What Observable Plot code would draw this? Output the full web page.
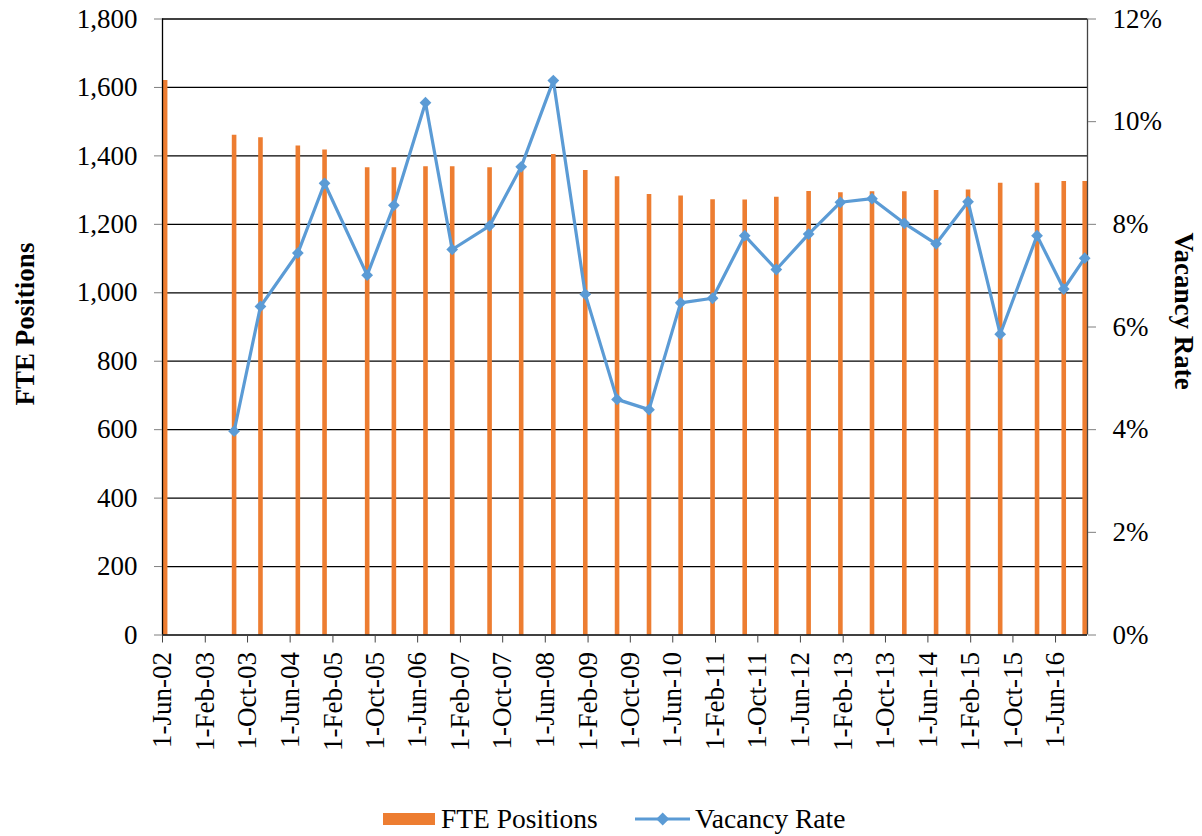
<!DOCTYPE html>
<html><head><meta charset="utf-8">
<script src="https://cdn.jsdelivr.net/npm/d3@7"></script>
<script src="https://cdn.jsdelivr.net/npm/@observablehq/plot@0.6"></script>
<style>
body{margin:0;background:#fff;font-family:"Liberation Serif","Times New Roman",serif;}
#wrap{position:relative;width:1202px;height:836px;overflow:hidden;}
.ytitle{position:absolute;font-weight:bold;font-size:27px;white-space:nowrap;line-height:1;}
#lt{left:25px;top:324px;transform:translate(-50%,-50%) rotate(-90deg);}
#rt{left:1183px;top:311px;transform:translate(-50%,-50%) rotate(90deg);}
#legend{position:absolute;left:0;top:800px;}
</style></head><body>
<div id="wrap">
<div id="chart"></div>
<div class="ytitle" id="lt">FTE Positions</div>
<div class="ytitle" id="rt">Vacancy Rate</div>
<svg id="legend" width="1202" height="36">
  <rect x="383" y="13" width="52" height="12" fill="#ED7D31"></rect>
  <text x="441" y="28" font-size="27.5" font-family="Liberation Serif, Times New Roman, serif">FTE Positions</text>
  <line x1="635" x2="690" y1="19" y2="19" stroke="#5B9BD5" stroke-width="3"></line>
  <path d="M662.7,12.5 L669.2,19 L662.7,25.5 L656.2,19 Z" fill="#5B9BD5"></path>
  <text x="695" y="28" font-size="27.5" font-family="Liberation Serif, Times New Roman, serif">Vacancy Rate</text>
</svg>
</div>
<script>
// ---- data ----
const dates = [
  "2002-06-16","2003-07-16","2003-12-14","2004-07-15","2004-12-15","2005-08-16",
  "2006-01-16","2006-07-16","2006-12-16","2007-07-18","2008-01-15","2008-07-17",
  "2009-01-16","2009-07-17","2010-01-16","2010-07-16","2011-01-15","2011-07-18",
  "2012-01-15","2012-07-18","2013-01-16","2013-07-16","2014-01-17","2014-07-18",
  "2015-01-17","2015-07-20","2016-02-16","2016-07-18","2016-11-15"
];
const ftePositions = [
  1620, 1460, 1453, 1429, 1417, 1365,
  1365, 1368, 1368, 1365, 1366, 1404,
  1357, 1339, 1287, 1283, 1272, 1271,
  1279, 1296, 1292, 1295, 1295, 1299,
  1300, 1320, 1320, 1325, 1325
];
const vacancyRate = [
  null, 3.97, 6.40, 7.44, 8.80, 7.01,
  8.37, 10.37, 7.51, 7.97, 9.12, 10.80,
  6.64, 4.59, 4.39, 6.47, 6.56, 7.78,
  7.12, 7.81, 8.43, 8.50, 8.02, 7.62,
  8.44, 5.86, 7.78, 6.74, 7.34
];
const xTickDates = [
  "2002-06-01","2003-02-01","2003-10-01","2004-06-01","2005-02-01","2005-10-01",
  "2006-06-01","2007-02-01","2007-10-01","2008-06-01","2009-02-01","2009-10-01",
  "2010-06-01","2011-02-01","2011-10-01","2012-06-01","2013-02-01","2013-10-01",
  "2014-06-01","2015-02-01","2015-10-01","2016-06-01"
];
const xDomain = ["2002-06-01", "2016-12-01"];
const leftTicks = [0, 200, 400, 600, 800, 1000, 1200, 1400, 1600, 1800];
const rightTicks = [0, 2, 4, 6, 8, 10, 12]; // percent

// ---- build ----
const parse = d3.utcParse("%Y-%m-%d");
const rows = dates.map((d, i) => ({date: parse(d), fte: ftePositions[i], rate: vacancyRate[i]}));
const rateRows = rows.filter(d => d.rate != null);
const scaleFactor = 1800 / 12; // 12% on right axis == 1800 on left axis
const fmtDate = d3.utcFormat("%-d-%b-%y");

const FONT = "Liberation Serif, Times New Roman, serif";
const chart = Plot.plot({
  width: 1202,
  height: 790,
  marginLeft: 162,
  marginRight: 115,
  marginTop: 18.5,
  marginBottom: 155.5,
  style: {fontFamily: FONT, fontSize: "27px", color: "black", background: "white", overflow: "visible"},
  x: {type: "utc", domain: xDomain.map(parse)},
  y: {domain: [0, 1800]},
  marks: [
    Plot.ruleY(leftTicks.filter(d => d > 0), {stroke: "black", strokeWidth: 1.3}),
    Plot.ruleX(rows, {x: "date", y1: 0, y2: "fte", stroke: "#ED7D31", strokeWidth: 4.6}),
    Plot.ruleX([parse(xDomain[0])], {stroke: "black", strokeWidth: 1.3}),
    Plot.ruleX([parse(xDomain[1])], {stroke: "#444", strokeWidth: 1.3}),
    Plot.ruleY([0], {stroke: "black", strokeWidth: 1.3}),
    Plot.line(rateRows, {x: "date", y: d => d.rate * scaleFactor, stroke: "#5B9BD5", strokeWidth: 3.2, strokeLinejoin: "round"}),
    Plot.dot(rateRows, {x: "date", y: d => d.rate * scaleFactor, symbol: "diamond2", r: 5.3, fill: "#5B9BD5", stroke: "none"}),
    Plot.axisY(leftTicks, {anchor: "left", tickFormat: d3.format(","), tickSize: 8, tickPadding: 17, stroke: "#7f7f7f", fill: "black", fontSize: 27, label: null}),
    Plot.axisY(rightTicks.map(p => p * scaleFactor), {anchor: "right", tickFormat: d => (d / scaleFactor) + "%", tickSize: 8, tickPadding: 17, stroke: "#7f7f7f", fill: "black", fontSize: 27, label: null}),
    Plot.axisX(xTickDates.map(parse), {anchor: "bottom", tickFormat: fmtDate, tickRotate: -90, tickSize: 8, tickPadding: 9, stroke: "#444", fill: "black", fontSize: 27, label: null})
  ]
});
document.getElementById("chart").appendChild(chart);
</script>
</body></html>
